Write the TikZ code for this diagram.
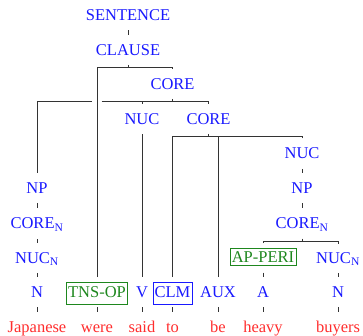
\documentclass[tikz,border=0pt]{standalone}
\usepackage{fontspec}
\setmainfont{Liberation Serif}
\usetikzlibrary{calc}
\definecolor{lblue}{RGB}{25,25,255}
\definecolor{lgreen}{RGB}{30,135,30}
\definecolor{lred}{RGB}{255,45,45}
\tikzset{
  lbl/.style={anchor=base,inner sep=0pt,outer sep=0pt,text=lblue,font=\fontsize{16.5}{18}\selectfont},
  word/.style={anchor=base,inner sep=0pt,outer sep=0pt,text=lred,font=\fontsize{16.5}{18}\selectfont},
  boxa/.style={lbl,draw=lgreen,text=lgreen,line width=0.7pt,inner xsep=1.8pt,inner ysep=0pt,text height=14pt,text depth=2.7pt},
  boxb/.style={lbl,line width=0.7pt,inner xsep=1.6pt,inner ysep=0pt,text height=14.7pt,text depth=7pt},
  edge/.style={draw=black!80,line width=0.6pt}
}
\newcommand{\vlink}[2]{\draw[edge] ([yshift=-10pt]#1.base) -- ([yshift=20.5pt]#2.base);}
\begin{document}
\begin{tikzpicture}[x=1pt,y=-1pt]
\useasboundingbox (0,0) rectangle (363,336);
% labels
\node[lbl] (sentence) at (128,20.5) {SENTENCE};
\node[lbl] (clause) at (128,55.5) {CLAUSE};
\node[lbl] (core1) at (172.5,89.5) {CORE};
\node[lbl] (nuc1) at (142,124.5) {NUC};
\node[lbl] (core2) at (208.5,124.5) {CORE};
\node[lbl] (nuc2) at (302,159) {NUC};
\node[lbl] (np2) at (302,193.5) {NP};
\node[lbl] (coren2) at (302,229) {CORE\textsubscript{N}};
\node[boxa] (apperi) at (263,262.5) {AP-PERI};
\node[lbl] (nucn2) at (338,263) {NUC\textsubscript{N}};
\node[lbl] (np1) at (37,193.5) {NP};
\node[lbl] (coren1) at (37,229) {CORE\textsubscript{N}};
\node[lbl] (nucn1) at (37,263) {NUC\textsubscript{N}};
\node[lbl] (n1) at (37,297) {N};
\node[boxb,draw=lgreen,text=lgreen] (tnsop) at (97,297) {TNS-OP};
\node[lbl] (v) at (142,297) {V};
\node[boxb,draw=lblue] (clm) at (172.5,297) {CLM};
\node[lbl] (aux) at (218,297) {AUX};
\node[lbl] (a) at (263,297) {A};
\node[lbl] (n2) at (338,297) {N};
% words
\node[word] (w1) at (37,332.5) {Japanese};
\node[word] (w2) at (97,332.5) {were};
\node[word] (w3) at (142,332.5) {said};
\node[word] (w4) at (172.5,332.5) {to};
\node[word] (w5) at (218,332.5) {be};
\node[word] (w6) at (263,332.5) {heavy};
\node[word] (w7) at (338,332.5) {buyers};
% single links
\vlink{sentence}{clause}
\vlink{np1}{coren1}
\vlink{coren1}{nucn1}
\vlink{nucn1}{n1}
\vlink{nuc1}{v}
\vlink{nuc2}{np2}
\vlink{np2}{coren2}
\vlink{apperi}{a}
\vlink{nucn2}{n2}
\vlink{n1}{w1}
\vlink{tnsop}{w2}
\vlink{v}{w3}
\vlink{clm}{w4}
\vlink{aux}{w5}
\vlink{a}{w6}
\vlink{n2}{w7}
% branching: CLAUSE
\coordinate (h1) at ([yshift=-12pt]clause.base);
\draw[edge] ([yshift=-9.5pt]clause.base) -- (h1);
\draw[edge] ([yshift=20pt]tnsop.base) |- (h1);
\draw[edge] ([yshift=20.5pt]core1.base) |- (h1);
% branching: CORE (top)
\coordinate (h2) at ([yshift=-12pt]core1.base);
\coordinate (gapL) at ($(tnsop.base |- h2)+(-4.7,0)$);
\coordinate (gapR) at ($(tnsop.base |- h2)+(4.7,0)$);
\draw[edge] ([yshift=-9.5pt]core1.base) -- (h2);
\draw[edge] ([yshift=20.5pt]np1.base) |- (gapL);
\draw[edge] (gapR) -- (h2);
\draw[edge] ([yshift=20.5pt]nuc1.base) |- (h2);
\draw[edge] ([yshift=20.5pt]core2.base) |- (h2);
% branching: CORE (lower)
\coordinate (h3) at ([yshift=-12pt]core2.base);
\draw[edge] ([yshift=-9.5pt]core2.base) -- (h3);
\draw[edge] ([yshift=20pt]clm.base) |- (h3);
\draw[edge] ([yshift=20pt]aux.base) |- (h3);
\draw[edge] ([yshift=20.5pt]nuc2.base) |- (h3);
% branching: CORE_N right
\coordinate (h4) at ([yshift=-12pt]coren2.base);
\draw[edge] ([yshift=-9.5pt]coren2.base) -- (h4);
\draw[edge] ([yshift=19.5pt]apperi.base) |- (h4);
\draw[edge] ([yshift=19.5pt]nucn2.base) |- (h4);
\end{tikzpicture}
\end{document}
